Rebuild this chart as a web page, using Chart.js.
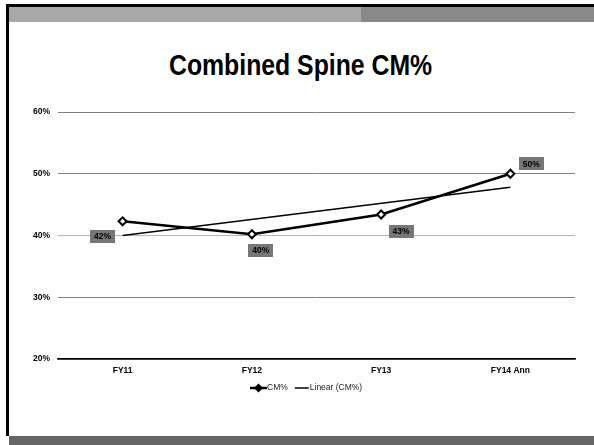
<!DOCTYPE html>
<html>
<head>
<meta charset="utf-8">
<script src="https://cdn.jsdelivr.net/npm/chart.js@4"></script>
<style>
html, body { margin: 0; padding: 0; background: #fff; }
#slide { position: relative; width: 594px; height: 445px; overflow: hidden; }
.bar-top    { position: absolute; left: 6px; top: 4px; width: 588px; height: 3px; background: #000; }
.bar-left   { position: absolute; left: 6px; top: 4px; width: 3px; height: 432px; background: #000; }
.band-a     { position: absolute; left: 9px; top: 7px; width: 352px; height: 15px; background: #a8a8a8; }
.band-b     { position: absolute; left: 361px; top: 7px; width: 233px; height: 15px; background: #898989; }
.band-bot   { position: absolute; left: 9px; top: 436px; width: 585px; height: 9px; background: #666; }
#title { position: absolute; left: 3px; top: 49px; width: 594px; text-align: center;
         font: bold 29px 'Liberation Sans', Arial, sans-serif; color: #000;
         transform: scaleX(0.855); transform-origin: 301px 0; }
canvas { position: absolute; left: 0; top: 0; }
</style>
</head>
<body>
<div id="slide">
  <div class="bar-top"></div>
  <div class="bar-left"></div>
  <div class="band-a"></div>
  <div class="band-b"></div>
  <div class="band-bot"></div>
  <div id="title">Combined Spine CM%</div>
  <canvas id="c" width="594" height="445"></canvas>
</div>
<script>
// 카테고리 / 값
const categories = ['FY11', 'FY12', 'FY13', 'FY14 Ann'];
const cmPct      = [42.3, 40.2, 43.4, 50.0];
const trendPct   = [40.0, null, null, 47.8];   // 추세선 양 끝
const yTicks     = [20, 30, 40, 50, 60];

// 데이터 라벨 위치 (점 기준 오프셋)
const labelOff = [[-20, 15], [9, 16], [20, 17], [21, -10]];

const FONT = "'Liberation Sans', Arial, sans-serif";

const dataLabels = {
  id: 'dataLabels',
  afterDatasetsDraw(chart) {
    const ctx = chart.ctx;
    const meta = chart.getDatasetMeta(0);
    ctx.save();
    ctx.font = 'bold 8.5px ' + FONT;
    ctx.textAlign = 'center';
    ctx.textBaseline = 'middle';
    meta.data.forEach((pt, i) => {
      const t = Math.round(cmPct[i]) + '%';
      const w = ctx.measureText(t).width + 8, h = 13;
      const cx = pt.x + labelOff[i][0], cy = pt.y + labelOff[i][1];
      ctx.fillStyle = '#777';
      ctx.fillRect(Math.round(cx - w / 2), Math.round(cy - h / 2), Math.round(w), h);
      ctx.fillStyle = '#000';
      ctx.fillText(t, cx, cy + 0.5);
    });
    ctx.restore();
  }
};

const legendLine = {
  id: 'legendLine',
  afterDraw(chart) {
    const ctx = chart.ctx;
    const ds = chart.data.datasets;
    const y = 388;
    ctx.save();
    ctx.font = '8.5px ' + FONT;
    ctx.textBaseline = 'middle';
    let x = 250;
    // CM%
    ctx.strokeStyle = '#000';
    ctx.lineWidth = 2.5;
    ctx.beginPath(); ctx.moveTo(x, y); ctx.lineTo(x + 17, y); ctx.stroke();
    ctx.lineWidth = 1.5;
    ctx.beginPath();
    ctx.moveTo(x + 8.5, y - 3.5); ctx.lineTo(x + 12, y); ctx.lineTo(x + 8.5, y + 3.5); ctx.lineTo(x + 5, y); ctx.closePath();
    ctx.fillStyle = '#000'; ctx.fill(); ctx.stroke();
    ctx.fillStyle = '#222';
    ctx.fillText(ds[0].label, x + 17, y);
    x = x + 17 + ctx.measureText(ds[0].label).width + 7;
    // Linear
    ctx.lineWidth = 1.5;
    ctx.beginPath(); ctx.moveTo(x, y); ctx.lineTo(x + 14, y); ctx.stroke();
    ctx.fillText(ds[1].label, x + 15, y);
    ctx.restore();
  }
};

new Chart(document.getElementById('c'), {
  type: 'line',
  data: {
    labels: categories,
    datasets: [
      {
        label: 'CM%', data: cmPct,
        borderColor: '#000', borderWidth: 2.5, tension: 0,
        pointStyle: 'rectRot', pointRadius: 4, pointHoverRadius: 4,
        pointBackgroundColor: '#fff', pointBorderColor: '#000', pointBorderWidth: 2,
      },
      {
        label: 'Linear (CM%)', data: trendPct, spanGaps: true,
        borderColor: '#000', borderWidth: 1.5, pointRadius: 0, tension: 0,
      },
    ],
  },
  options: {
    responsive: false, animation: false,
    layout: { padding: { top: 112, right: 19, left: 0, bottom: 0 } },
    plugins: { legend: { display: false }, tooltip: { enabled: false } },
    scales: {
      x: {
        offset: true,
        grid: { display: false, drawTicks: false },
        border: { color: '#000', width: 1.5 },
        ticks: { color: '#000', padding: 7, font: { family: FONT, size: 8.5, weight: 'bold' } },
        afterFit: s => { s.height = 86; },
      },
      y: {
        min: 20, max: 60,
        afterBuildTicks: s => { s.ticks = yTicks.map(v => ({ value: v })); },
        grid: {
          drawTicks: false,
          color: c => c.tick.value === 20 ? '#000' : c.tick.value === 40 ? '#b4b4b4' : '#808080',
          lineWidth: c => c.tick.value === 20 ? 1.5 : 1,
        },
        border: { display: false },
        ticks: { color: '#000', padding: 8, callback: v => v + '%', font: { family: FONT, size: 8.5, weight: 'bold' } },
        afterFit: s => { s.width = 58; },
      },
    },
  },
  plugins: [dataLabels, legendLine],
});
</script>
</body>
</html>
